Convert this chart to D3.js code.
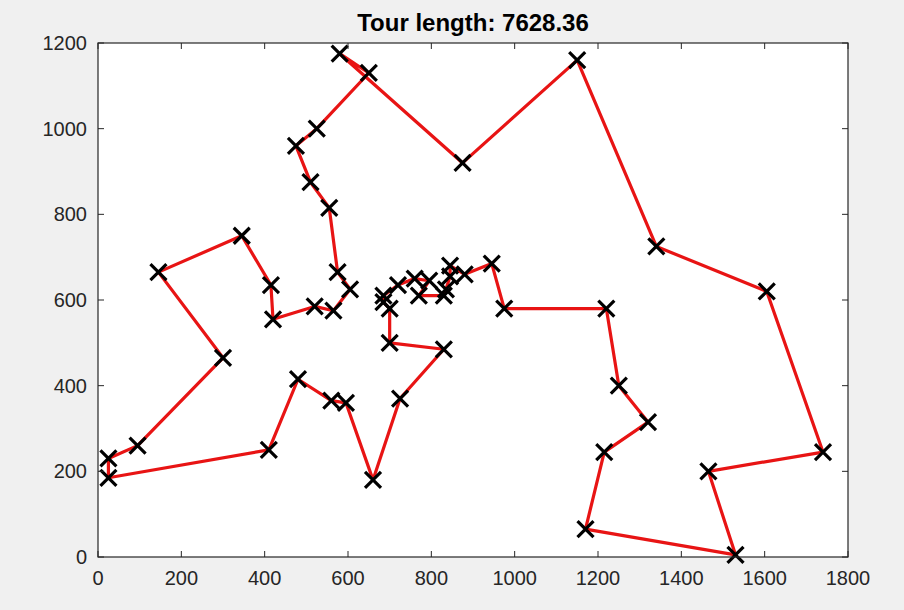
<!DOCTYPE html>
<html>
<head>
<meta charset="utf-8">
<script src="https://cdn.jsdelivr.net/npm/d3@7"></script>
<style>
  html, body { margin: 0; padding: 0; background: #f0f0f0; }
  svg { display: block; }
  text { font-family: "Liberation Sans", Arial, sans-serif; }
</style>
</head>
<body>
<svg id="chart" width="904" height="610"></svg>
<script>
// City coordinates (1-based city numbers index into these)
const cityX = [565, 25, 345, 945, 845, 880, 25, 525, 580, 650, 1605, 1220, 1465, 1530, 845, 725, 145, 415, 510, 560,
               300, 520, 480, 835, 975, 1215, 1320, 1250, 660, 410, 420, 575, 1150, 700, 685, 685, 770, 795, 720, 760,
               475, 95, 875, 700, 555, 830, 1170, 830, 605, 595, 1340, 1740];
const cityY = [575, 185, 750, 685, 655, 660, 230, 1000, 1175, 1130, 620, 580, 200, 5, 680, 370, 665, 635, 875, 365,
               465, 585, 415, 625, 580, 245, 315, 400, 180, 250, 555, 665, 1160, 580, 595, 610, 610, 645, 635, 650,
               960, 260, 920, 500, 815, 485, 65, 610, 625, 360, 725, 245];

// Visiting order of the tour (closed back to the first city)
const tourOrder = [1, 49, 32, 45, 19, 41, 8, 10, 9, 43, 33, 51, 11, 52, 13, 14, 47, 26, 27, 28, 12, 25, 4, 6, 15, 5,
                   24, 48, 37, 38, 40, 39, 36, 35, 34, 44, 46, 16, 29, 50, 20, 23, 30, 2, 7, 42, 21, 17, 3, 18, 31, 22];

const tourLength = "7628.36";
const xTicks = [0, 200, 400, 600, 800, 1000, 1200, 1400, 1600, 1800];
const yTicks = [0, 200, 400, 600, 800, 1000, 1200];

const svg = d3.select("#chart");
const plotLeft = 98, plotRight = 848, plotTop = 43, plotBottom = 557;

const x = d3.scaleLinear().domain([0, 1800]).range([plotLeft, plotRight]);
const y = d3.scaleLinear().domain([0, 1200]).range([plotBottom, plotTop]);

// Axes box background
svg.append("rect")
  .attr("x", plotLeft).attr("y", plotTop)
  .attr("width", plotRight - plotLeft).attr("height", plotBottom - plotTop)
  .attr("fill", "#ffffff");

// Tour path
const pts = tourOrder.map(i => [cityX[i - 1], cityY[i - 1]]);
const line = d3.line().x(d => x(d[0])).y(d => y(d[1])).curve(d3.curveLinearClosed);
svg.append("path")
  .attr("d", line(pts))
  .attr("fill", "none")
  .attr("stroke", "#e81414")
  .attr("stroke-width", 3.2)
  .attr("stroke-linejoin", "round");

// City markers (x)
const m = 8;
const marks = svg.append("g");
cityX.forEach((cx, i) => {
  const px = x(cx), py = y(cityY[i]);
  marks.append("path")
    .attr("d", `M${px - m},${py - m}L${px + m},${py + m}M${px - m},${py + m}L${px + m},${py - m}`)
    .attr("stroke", "#000")
    .attr("stroke-width", 3.2)
    .attr("fill", "none");
});

// Ticks and labels
const tickColor = "#262626";
const tickLen = 6;
const axes = svg.append("g").attr("stroke", tickColor).attr("stroke-width", 1);
xTicks.forEach(t => {
  axes.append("line").attr("x1", x(t)).attr("x2", x(t)).attr("y1", plotBottom).attr("y2", plotBottom - tickLen);
  axes.append("line").attr("x1", x(t)).attr("x2", x(t)).attr("y1", plotTop).attr("y2", plotTop + tickLen);
});
yTicks.forEach(t => {
  axes.append("line").attr("x1", plotLeft).attr("x2", plotLeft + tickLen).attr("y1", y(t)).attr("y2", y(t));
  axes.append("line").attr("x1", plotRight).attr("x2", plotRight - tickLen).attr("y1", y(t)).attr("y2", y(t));
});

svg.append("rect")
  .attr("x", plotLeft).attr("y", plotTop)
  .attr("width", plotRight - plotLeft).attr("height", plotBottom - plotTop)
  .attr("fill", "none").attr("stroke", tickColor).attr("stroke-width", 1.2);

svg.append("g").selectAll("text").data(xTicks).join("text")
  .attr("x", d => x(d)).attr("y", plotBottom + 28)
  .attr("text-anchor", "middle")
  .attr("font-size", 20)
  .attr("fill", tickColor)
  .text(d => d);

svg.append("g").selectAll("text").data(yTicks).join("text")
  .attr("x", plotLeft - 11).attr("y", d => y(d) + 7)
  .attr("text-anchor", "end")
  .attr("font-size", 20)
  .attr("fill", tickColor)
  .text(d => d);

svg.append("text")
  .attr("x", 473).attr("y", 31)
  .attr("text-anchor", "middle")
  .attr("font-size", 24)
  .attr("font-weight", "bold")
  .attr("fill", "#000")
  .text("Tour length: " + tourLength);
</script>
</body>
</html>
